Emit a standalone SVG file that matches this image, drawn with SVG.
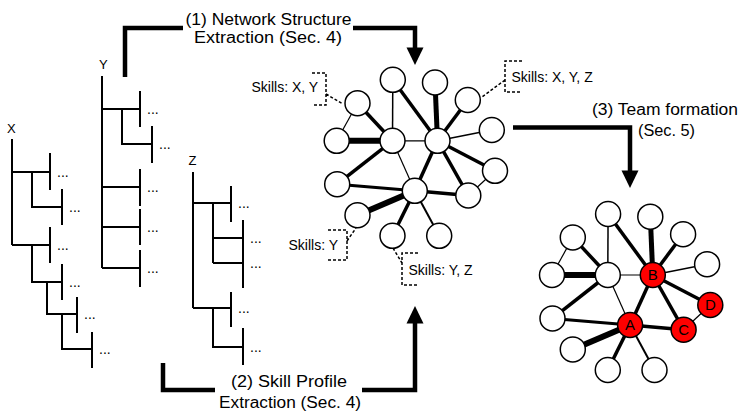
<svg xmlns="http://www.w3.org/2000/svg" xmlns:xlink="http://www.w3.org/1999/xlink" width="743" height="413" viewBox="0 0 743 413">
<style>
.t{font-family:"Liberation Sans",Arial,sans-serif;fill:#000}
.big{font-size:16px}
.sk{font-size:14px}
.tl{font-size:13px}
.dots{font-size:14px}
.tree{stroke:#000;stroke-width:2;fill:none}
.dash{stroke:#000;stroke-width:1.5;stroke-dasharray:3 2;fill:none}
.arrow{stroke:#000;stroke-width:4.5;fill:none}
.n{fill:#fff;stroke:#000;stroke-width:1.5}
.r{fill:#f00;stroke:#000;stroke-width:1.5}
.e{stroke:#000}
.lab{font-size:15px;text-anchor:middle}
</style>
<defs>
<g id="edges" class="e">
<line x1="392.8" y1="79.8" x2="392.5" y2="140.8" stroke-width="1.5"/>
<line x1="392.8" y1="79.8" x2="437.5" y2="140.8" stroke-width="3.5"/>
<line x1="435" y1="82.5" x2="437.5" y2="140.8" stroke-width="5"/>
<line x1="357.5" y1="103.2" x2="336.7" y2="140.8" stroke-width="1.2"/>
<line x1="357.5" y1="103.2" x2="392.5" y2="140.8" stroke-width="3.5"/>
<line x1="467.8" y1="100" x2="437.5" y2="140.8" stroke-width="3.5"/>
<line x1="336.7" y1="140.8" x2="392.5" y2="140.8" stroke-width="6"/>
<line x1="392.5" y1="140.8" x2="437.5" y2="140.8" stroke-width="1.2"/>
<line x1="437.5" y1="140.8" x2="491.8" y2="130" stroke-width="1.5"/>
<line x1="392.5" y1="140.8" x2="337.2" y2="184.2" stroke-width="3.5"/>
<line x1="392.5" y1="140.8" x2="414.8" y2="190.8" stroke-width="1.2"/>
<line x1="437.5" y1="140.8" x2="414.8" y2="190.8" stroke-width="3.5"/>
<line x1="437.5" y1="140.8" x2="495" y2="170.8" stroke-width="3.5"/>
<line x1="437.5" y1="140.8" x2="468.3" y2="195.5" stroke-width="3.5"/>
<line x1="495" y1="170.8" x2="468.3" y2="195.5" stroke-width="1.2"/>
<line x1="337.2" y1="184.2" x2="414.8" y2="190.8" stroke-width="3"/>
<line x1="414.8" y1="190.8" x2="468.3" y2="195.5" stroke-width="3.5"/>
<line x1="414.8" y1="190.8" x2="357.5" y2="215.2" stroke-width="6"/>
<line x1="414.8" y1="190.8" x2="392.5" y2="235.8" stroke-width="3.5"/>
<line x1="414.8" y1="190.8" x2="439.2" y2="235.8" stroke-width="2"/>
</g>
<polygon id="ahd" points="-8.5,0 8.5,0 0,17.5" fill="#000"/>
</defs>

<g id="trees" class="tree">
<path d="M12,139V245M12,172H50M50,153V190M32,172V207H62M62,189V225M12,245H50M50,227V263M32,245V282H62M62,264V300M47,282V314H77M77,297V333M62,314V349H92M92,332V368"/>
<path d="M102,76V268M102,109H140M140,91V127M122,109V144H152M152,126V163M102,187H140M140,169V206M102,227H140M140,209V245M102,268H140M140,250V287"/>
<path d="M193,172V308M193,203H231M231,186V222M213,203V263M213,238H243M213,263H243M243,220V288M193,308H231M231,292V327M213,308V347H243M243,328V365"/>
</g>
<g id="tree-labels" class="t tl">
<text x="7" y="133">X</text>
<text x="99" y="69">Y</text>
<text x="188.5" y="165">Z</text>
</g>
<g id="tree-dots" class="t dots">
<text x="57" y="177">...</text>
<text x="69" y="212">...</text>
<text x="57" y="250">...</text>
<text x="69" y="287">...</text>
<text x="84" y="319">...</text>
<text x="99" y="354">...</text>
<text x="147" y="114">...</text>
<text x="159" y="149">...</text>
<text x="147" y="192">...</text>
<text x="147" y="232">...</text>
<text x="147" y="273">...</text>
<text x="238" y="208">...</text>
<text x="250" y="243">...</text>
<text x="250" y="268">...</text>
<text x="238" y="313">...</text>
<text x="250" y="352">...</text>
</g>

<g id="connectors">
<use xlink:href="#edges" href="#edges"/>
<use xlink:href="#edges" href="#edges" transform="translate(215.3,134.2)"/>
<path class="arrow" d="M125,77V28H183M353,28H415V50"/>
<use xlink:href="#ahd" href="#ahd" transform="translate(415,47.5)"/>
<path class="arrow" d="M163,363V390H215M362,390H415V320"/>
<use xlink:href="#ahd" href="#ahd" transform="translate(415,323.5) scale(1,-1)"/>
<path class="arrow" d="M513,127.5H630V174"/>
<use xlink:href="#ahd" href="#ahd" transform="translate(630,170.5)"/>
<path class="dash" d="M312,73H326V105H312M326,94L343,104"/>
<path class="dash" d="M522,61H505V92H522M505,80L482,97"/>
<path class="dash" d="M328,230H347V260H328M347,241L356,228"/>
<path class="dash" d="M418,253H402V285H418M393,248L402,263"/>
</g>

<g id="network1">
<g id="g1n1"><circle class="n" cx="392.8" cy="79.8" r="12.5"/></g>
<g id="g1n2"><circle class="n" cx="435" cy="82.5" r="12.5"/></g>
<g id="g1n3"><circle class="n" cx="357.5" cy="103.2" r="12.5"/></g>
<g id="g1n4"><circle class="n" cx="467.8" cy="100" r="12.5"/></g>
<g id="g1n5"><circle class="n" cx="336.7" cy="140.8" r="12.5"/></g>
<g id="g1n6"><circle class="n" cx="392.5" cy="140.8" r="12.5"/></g>
<g id="g1n7"><circle class="n" cx="437.5" cy="140.8" r="12.5"/></g>
<g id="g1n8"><circle class="n" cx="491.8" cy="130" r="12.5"/></g>
<g id="g1n9"><circle class="n" cx="337.2" cy="184.2" r="12.5"/></g>
<g id="g1n10"><circle class="n" cx="414.8" cy="190.8" r="12.5"/></g>
<g id="g1n11"><circle class="n" cx="495" cy="170.8" r="12.5"/></g>
<g id="g1n12"><circle class="n" cx="468.3" cy="195.5" r="12.5"/></g>
<g id="g1n13"><circle class="n" cx="357.5" cy="215.2" r="12.5"/></g>
<g id="g1n14"><circle class="n" cx="392.5" cy="235.8" r="12.5"/></g>
<g id="g1n15"><circle class="n" cx="439.2" cy="235.8" r="12.5"/></g>
</g>

<g id="network2" transform="translate(215.3,134.2)">
<g id="g2n1"><circle class="n" cx="392.8" cy="79.8" r="12.5"/></g>
<g id="g2n2"><circle class="n" cx="435" cy="82.5" r="12.5"/></g>
<g id="g2n3"><circle class="n" cx="357.5" cy="103.2" r="12.5"/></g>
<g id="g2n4"><circle class="n" cx="467.8" cy="100" r="12.5"/></g>
<g id="g2n5"><circle class="n" cx="336.7" cy="140.8" r="12.5"/></g>
<g id="g2n6"><circle class="n" cx="392.5" cy="140.8" r="12.5"/></g>
<g id="g2B"><circle class="r" cx="437.5" cy="140.8" r="12.5"/><text class="t lab" x="437.5" y="146.3">B</text></g>
<g id="g2n8"><circle class="n" cx="491.8" cy="130" r="12.5"/></g>
<g id="g2n9"><circle class="n" cx="337.2" cy="184.2" r="12.5"/></g>
<g id="g2A"><circle class="r" cx="414.8" cy="190.8" r="12.5"/><text class="t lab" x="414.8" y="196.3">A</text></g>
<g id="g2D"><circle class="r" cx="495" cy="170.8" r="12.5"/><text class="t lab" x="495" y="176.3">D</text></g>
<g id="g2C"><circle class="r" cx="468.3" cy="195.5" r="12.5"/><text class="t lab" x="468.3" y="201">C</text></g>
<g id="g2n13"><circle class="n" cx="357.5" cy="215.2" r="12.5"/></g>
<g id="g2n14"><circle class="n" cx="392.5" cy="235.8" r="12.5"/></g>
<g id="g2n15"><circle class="n" cx="439.2" cy="235.8" r="12.5"/></g>
</g>

<g id="skill-labels" class="t sk">
<text x="251.5" y="92">Skills: X, Y</text>
<text x="511.5" y="81.5">Skills: X, Y, Z</text>
<text x="288.5" y="250">Skills: Y</text>
<text x="408.5" y="275">Skills: Y, Z</text>
</g>

<g id="step-labels" class="t big" text-anchor="middle">
<text x="268.5" y="24.5" textLength="166" lengthAdjust="spacingAndGlyphs">(1) Network Structure</text>
<text x="268" y="42.5" textLength="148" lengthAdjust="spacingAndGlyphs">Extraction (Sec. 4)</text>
<text x="289" y="387" textLength="116" lengthAdjust="spacingAndGlyphs">(2) Skill Profile</text>
<text x="290" y="408" textLength="142" lengthAdjust="spacingAndGlyphs">Extraction (Sec. 4)</text>
<text x="665" y="115" textLength="146" lengthAdjust="spacingAndGlyphs">(3) Team formation</text>
<text x="666.5" y="136" textLength="57" lengthAdjust="spacingAndGlyphs">(Sec. 5)</text>
</g>
</svg>
